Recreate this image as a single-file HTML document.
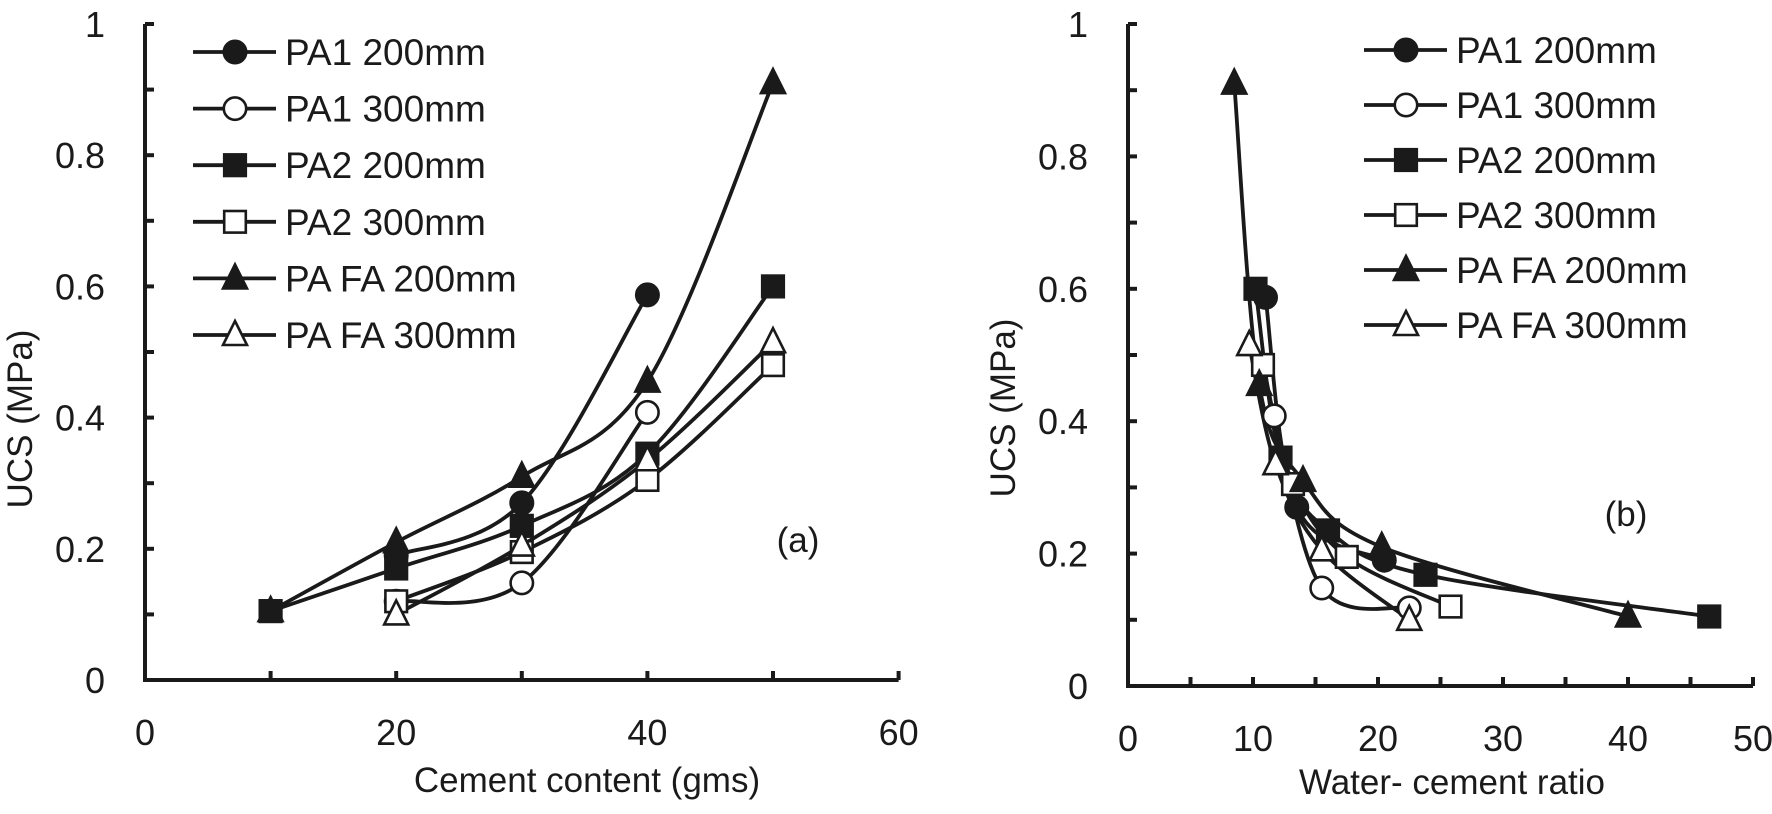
<!DOCTYPE html>
<html><head><meta charset="utf-8"><style>
body{margin:0;background:#fff;}
svg text{font-family:"Liberation Sans",sans-serif;fill:#1a1a1a;}
</style></head><body>
<svg id="s" width="1772" height="809" xmlns="http://www.w3.org/2000/svg"></svg>
<script>
const S=document.getElementById('s');let h='';
function ax(o){
 const X=v=>o.x0+v*o.sx, Y=v=>o.y0-v*o.sy;
 h+=`<line x1="${o.x0}" y1="${Y(1)}" x2="${o.x0}" y2="${o.y0+2}" stroke="#1a1a1a" stroke-width="4"/>`;
 h+=`<line x1="${o.x0-2}" y1="${o.y0}" x2="${X(o.xmax)}" y2="${o.y0}" stroke="#1a1a1a" stroke-width="4"/>`;
 for(let v=0;v<=1.001;v+=0.1){h+=`<line x1="${o.x0}" y1="${Y(v)}" x2="${o.x0+9}" y2="${Y(v)}" stroke="#1a1a1a" stroke-width="4"/>`;}
 [0,0.2,0.4,0.6,0.8,1].forEach(v=>{h+=`<text x="${o.x0-40}" y="${Y(v)+13}" font-size="36" text-anchor="end">${v==0?'0':v==1?'1':v.toFixed(1)}</text>`;});
 for(let v=0;v<=o.xmax;v+=o.xt){h+=`<line x1="${X(v)}" y1="${o.y0}" x2="${X(v)}" y2="${o.y0-9}" stroke="#1a1a1a" stroke-width="4"/>`;}
 for(let v=0;v<=o.xmax;v+=o.xl){h+=`<text x="${X(v)}" y="${o.y0+65}" font-size="36" text-anchor="middle">${v}</text>`;}
 o.series.forEach(s=>{
  const p=s.d.map(d=>[X(d[0]),Y(d[1])]);
  let d=`M${p[0][0]},${p[0][1]}`;
  for(let i=0;i<p.length-1;i++){const a=p[Math.max(0,i-1)],b=p[i],c=p[i+1],e=p[Math.min(p.length-1,i+2)];const t=0.17;
   d+=` C${b[0]+(c[0]-a[0])*t},${b[1]+(c[1]-a[1])*t} ${c[0]-(e[0]-b[0])*t},${c[1]-(e[1]-b[1])*t} ${c[0]},${c[1]}`;}
  h+=`<path d="${d}" fill="none" stroke="#1a1a1a" stroke-width="3.8"/>`;
  s.pts=p;});
 o.series.forEach(s=>s.pts.forEach(q=>h+=mk(s.m,q[0],q[1])));
 o.series.forEach((s,i)=>{const y=o.ly+i*o.ld;
  h+=`<line x1="${o.lx}" y1="${y}" x2="${o.lx+83}" y2="${y}" stroke="#1a1a1a" stroke-width="3.8"/>`+mk(s.m,o.lx+42,y);
  h+=`<text x="${o.lx+92}" y="${y+13}" font-size="37">${s.n}</text>`;});
}
function mk(m,x,y){const f=m[1]=='f'?'#1a1a1a':'#fff';const st=`fill="${f}" stroke="#1a1a1a" stroke-width="2.6"`;
 if(m[0]=='c')return `<circle cx="${x}" cy="${y}" r="11.2" ${st}/>`;
 if(m[0]=='s')return `<rect x="${x-10.8}" y="${y-10.8}" width="21.6" height="21.6" ${st}/>`;
 return `<polygon points="${x},${y-14} ${x+12},${y+10} ${x-12},${y+10}" ${st}/>`;}
const N=['PA1 200mm','PA1 300mm','PA2 200mm','PA2 300mm','PA FA 200mm','PA FA 300mm'],M=['cf','co','sf','so','tf','to'];
const L=[[[20,0.19],[30,0.27],[40,0.587]],
[[20,0.12],[30,0.148],[40,0.408]],
[[10,0.105],[20,0.17],[30,0.235],[40,0.345],[50,0.6]],
[[20,0.12],[30,0.195],[40,0.305],[50,0.48]],
[[10,0.105],[20,0.21],[30,0.31],[40,0.455],[50,0.91]],
[[20,0.1],[30,0.205],[40,0.335],[50,0.515]]];
const R=[[[20.5,0.19],[13.5,0.27],[11,0.587]],
[[22.5,0.118],[15.5,0.148],[11.7,0.408]],
[[46.5,0.105],[23.8,0.168],[16,0.235],[12.2,0.345],[10.2,0.6]],
[[25.8,0.12],[17.5,0.195],[13.2,0.305],[10.8,0.485]],
[[40,0.105],[20.3,0.21],[14,0.31],[10.5,0.455],[8.5,0.91]],
[[22.5,0.1],[15.5,0.205],[11.8,0.335],[9.7,0.515]]];
ax({x0:145,y0:680,sx:12.56,sy:656,xmax:60,xt:10,xl:20,lx:193,ly:52,ld:56.6,series:L.map((d,i)=>({d,n:N[i],m:M[i]}))});
ax({x0:1128,y0:686,sx:12.5,sy:662,xmax:50,xt:5,xl:10,lx:1364,ly:50,ld:55,series:R.map((d,i)=>({d,n:N[i],m:M[i]}))});
h+=`<text transform="translate(32,419) rotate(-90)" font-size="35" text-anchor="middle">UCS (MPa)</text>`;
h+=`<text transform="translate(1015,408) rotate(-90)" font-size="35" text-anchor="middle">UCS (MPa)</text>`;
h+=`<text x="587" y="792" font-size="35" text-anchor="middle">Cement content (gms)</text>`;
h+=`<text x="1452" y="794" font-size="35" text-anchor="middle">Water- cement ratio</text>`;
h+=`<text x="798" y="552" font-size="35" text-anchor="middle">(a)</text>`;
h+=`<text x="1626" y="526" font-size="35" text-anchor="middle">(b)</text>`;
S.innerHTML=h;
</script>
</body></html>
